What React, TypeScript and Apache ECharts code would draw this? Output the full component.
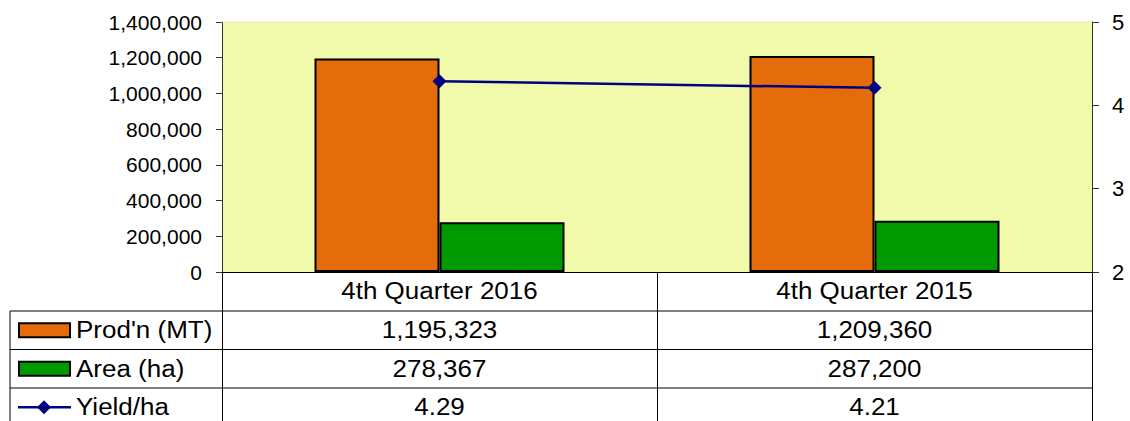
import React, { useEffect, useRef } from "react";
import * as echarts from "echarts";

const categories = ["4th Quarter 2016", "4th Quarter 2015"];
const production = [1195323, 1209360];
const area = [278367, 287200];
const yieldHa = [4.29, 4.21];
const seriesNames = ["Prod'n (MT)", "Area (ha)", "Yield/ha"];
const leftAxis = { min: 0, max: 1400000, interval: 200000 };
const rightAxis = { min: 2, max: 5, interval: 1 };

const COLORS = { prod: "#E46C0A", area: "#009900", yield: "#000080", plot: "#F0FAAA" };
const FONT = "Liberation Sans, Arial, sans-serif";

const GRID = { left: 222, top: 22, width: 870, height: 250 };
const TABLE_LEFT = 10;
const ROW_EDGES = [272, 311, 349.5, 388, 426.5];

export default function App() {
  const ref = useRef<HTMLDivElement>(null);

  useEffect(() => {
    if (!ref.current) return;
    const chart = echarts.init(ref.current, null, { renderer: "svg" });
    const option: any = {
      animation: false,
      textStyle: { fontFamily: FONT },
      grid: { ...GRID, show: true, backgroundColor: COLORS.plot, borderWidth: 0 },
      xAxis: {
        type: "category",
        data: categories,
        axisLine: { show: true, lineStyle: { color: "#000", width: 1 } },
        axisTick: { show: true, length: 155, lineStyle: { color: "#000", width: 1 } },
        axisLabel: { show: false },
        splitLine: { show: false },
      },
      yAxis: [
        {
          type: "value",
          position: "left",
          min: leftAxis.min,
          max: leftAxis.max,
          interval: leftAxis.interval,
          axisLine: { show: true, lineStyle: { color: "#333", width: 1 } },
          axisTick: { show: true, length: 6, lineStyle: { color: "#333" } },
          splitLine: { show: false },
          axisLabel: {
            fontSize: 21,
            color: "#000",
            margin: 20,
            fontFamily: FONT,
            formatter: (v: number) => v.toLocaleString("en-US"),
          },
        },
        {
          type: "value",
          position: "right",
          min: rightAxis.min,
          max: rightAxis.max,
          interval: rightAxis.interval,
          axisLine: { show: true, lineStyle: { color: "#333", width: 1 } },
          axisTick: { show: true, length: 7, lineStyle: { color: "#333" } },
          splitLine: { show: false },
          axisLabel: { fontSize: 22, color: "#000", margin: 20, fontFamily: FONT },
        },
      ],
      series: [
        {
          name: seriesNames[0],
          type: "bar",
          data: production,
          barWidth: 125,
          barGap: "0%",
          itemStyle: { color: COLORS.prod, borderColor: "#000", borderWidth: 2 },
        },
        {
          name: seriesNames[1],
          type: "bar",
          data: area,
          barWidth: 125,
          barGap: "0%",
          itemStyle: { color: COLORS.area, borderColor: "#000", borderWidth: 2 },
        },
        {
          name: seriesNames[2],
          type: "line",
          yAxisIndex: 1,
          data: yieldHa,
          symbol: "diamond",
          symbolSize: 14,
          lineStyle: { color: COLORS.yield, width: 2.5 },
          itemStyle: { color: COLORS.yield },
          z: 5,
        },
      ],
    };
    chart.setOption(option);

    const centers = categories.map((_, i) => chart.convertToPixel({ xAxisIndex: 0 }, i) as number);
    const rightEdge = GRID.left + GRID.width;
    const rowMid = (r: number) => (ROW_EDGES[r] + ROW_EDGES[r + 1]) / 2;
    const txt = (text: string, x: number, y: number, align: string) => ({
      type: "text",
      x,
      y,
      scaleX: 1.13,
      z: 10,
      style: {
        text,
        x: 0,
        y: 0,
        align,
        verticalAlign: "middle",
        fontSize: 23,
        fontFamily: FONT,
        fill: "#000",
      },
    });
    const hline = (y: number, x1: number, x2: number, color = "#000") => ({
      type: "line",
      z: 10,
      shape: { x1, y1: y, x2, y2: y },
      style: { stroke: color, lineWidth: 1 },
    });

    const elements: any[] = [];
    // faint top border of plot area
    elements.push(hline(GRID.top, GRID.left, rightEdge, "#F6DCD2"));
    // table grid lines
    for (let r = 1; r < ROW_EDGES.length; r++) elements.push(hline(ROW_EDGES[r], TABLE_LEFT, rightEdge));
    elements.push({
      type: "line",
      z: 10,
      shape: { x1: TABLE_LEFT, y1: ROW_EDGES[1], x2: TABLE_LEFT, y2: ROW_EDGES[4] },
      style: { stroke: "#000", lineWidth: 1 },
    });
    // category row
    categories.forEach((c, i) => elements.push(txt(c, centers[i], rowMid(0), "center")));
    // data rows
    const rows = [
      production.map((v) => v.toLocaleString("en-US")),
      area.map((v) => v.toLocaleString("en-US")),
      yieldHa.map((v) => v.toFixed(2)),
    ];
    rows.forEach((vals, r) => {
      vals.forEach((v, i) => elements.push(txt(v, centers[i], rowMid(r + 1), "center")));
      elements.push(txt(seriesNames[r], 76, rowMid(r + 1), "left"));
    });
    // legend keys
    [COLORS.prod, COLORS.area].forEach((col, r) => {
      elements.push({
        type: "rect",
        z: 10,
        shape: { x: 19, y: rowMid(r + 1) - 7, width: 51, height: 14 },
        style: { fill: col, stroke: "#000", lineWidth: 2 },
      });
    });
    const yy = rowMid(3);
    elements.push({
      type: "line",
      z: 10,
      shape: { x1: 18, y1: yy, x2: 71, y2: yy },
      style: { stroke: COLORS.yield, lineWidth: 2.5 },
    });
    elements.push({
      type: "polygon",
      z: 11,
      shape: { points: [[37, yy], [44, yy - 7], [51, yy], [44, yy + 7]] },
      style: { fill: COLORS.yield },
    });

    chart.setOption({ graphic: { elements } });

    return () => chart.dispose();
  }, []);

  return (
    <div
      ref={ref}
      style={{ position: "absolute", left: 0, top: 0, width: 1130, height: 421, background: "#fff" }}
    />
  );
}
